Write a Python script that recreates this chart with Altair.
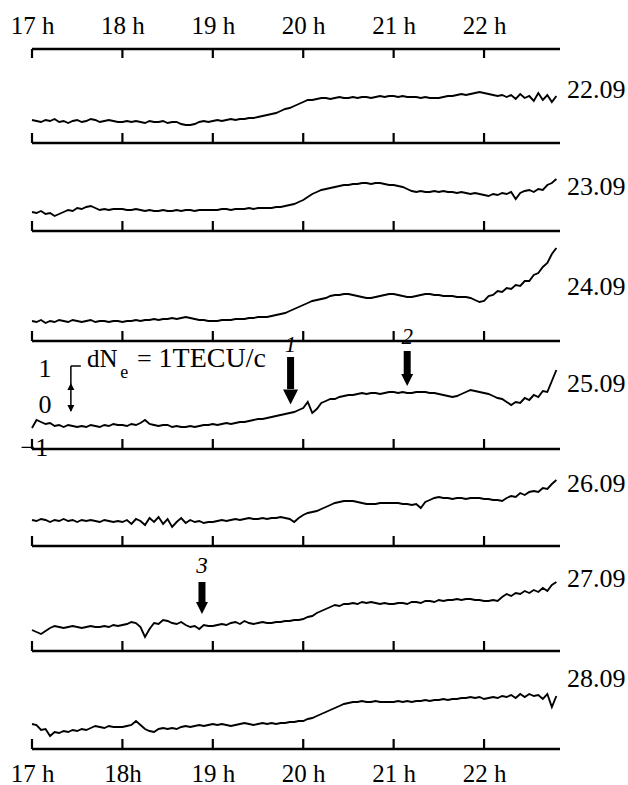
import altair as alt
import pandas as pd

# ---------------- data ----------------
hours = [17, 18, 19, 20, 21, 22]
top_labels = ["17 h", "18 h", "19 h", "20 h", "21 h", "22 h"]
bottom_labels = ["17 h", "18h", "19 h", "20 h", "21 h", "22 h"]
dates = ["22.09", "23.09", "24.09", "25.09", "26.09", "27.09", "28.09"]

sample_start = 17.0   # h
sample_step = 0.05    # h (3 min)

# dNe traces (relative units), one value every 3 min
dne_2209 = [23, 22, 21, 23, 22, 24, 21, 22, 20, 22, 23, 21, 22, 24, 23, 21, 22, 23, 22, 21,
            21, 22, 21, 22, 21, 20, 22, 21, 21, 22, 20, 21, 21, 19, 18, 18, 19, 21, 22, 21,
            22, 23, 22, 23, 24, 23, 24, 24, 25, 25, 26, 27, 28, 29, 30, 32, 34, 35, 37, 39,
            41, 43, 43, 44, 45, 45, 44, 45, 46, 45, 45, 46, 45, 46, 46, 45, 46, 47, 46, 47,
            47, 46, 47, 46, 46, 46, 45, 46, 45, 45, 45, 46, 47, 47, 48, 49, 48, 49, 50, 51,
            50, 49, 48, 47, 48, 46, 48, 44, 49, 45, 47, 42, 50, 43, 48, 41, 47]
dne_2309 = [19, 18, 20, 17, 18, 15, 17, 19, 21, 20, 23, 22, 24, 25, 23, 21, 22, 21, 22, 22,
            22, 21, 21, 22, 21, 20, 21, 20, 20, 21, 20, 20, 21, 20, 21, 21, 20, 21, 21, 21,
            21, 21, 22, 22, 21, 22, 22, 22, 23, 22, 23, 23, 23, 23, 24, 24, 25, 26, 27, 29,
            31, 34, 37, 39, 41, 42, 43, 44, 45, 46, 46, 47, 47, 48, 48, 47, 48, 48, 47, 46,
            46, 45, 44, 42, 40, 39, 40, 39, 39, 40, 39, 40, 39, 39, 38, 39, 38, 37, 38, 37,
            36, 35, 37, 36, 38, 37, 39, 32, 38, 40, 41, 39, 42, 41, 46, 48, 52]
dne_2409 = [20, 19, 21, 18, 20, 19, 21, 20, 19, 21, 20, 19, 20, 21, 19, 20, 20, 19, 20, 20,
            19, 20, 20, 21, 20, 21, 21, 22, 21, 22, 22, 23, 22, 23, 24, 23, 22, 21, 21, 20,
            20, 20, 21, 21, 21, 22, 22, 22, 23, 23, 24, 24, 24, 25, 26, 27, 28, 30, 32, 34,
            36, 38, 40, 41, 42, 43, 45, 46, 46, 47, 47, 46, 45, 44, 43, 43, 44, 45, 46, 47,
            47, 46, 45, 44, 44, 45, 46, 47, 47, 46, 46, 45, 45, 45, 44, 44, 44, 43, 41, 39,
            40, 45, 46, 50, 49, 53, 52, 56, 55, 60, 60, 66, 68, 74, 78, 87, 93]
dne_2509 = [21, 29, 27, 25, 26, 23, 24, 22, 24, 23, 22, 23, 22, 24, 23, 22, 24, 23, 25, 24,
            24, 23, 25, 24, 26, 29, 25, 24, 23, 24, 24, 22, 23, 22, 22, 23, 22, 23, 24, 24,
            25, 24, 25, 26, 25, 26, 27, 27, 28, 29, 30, 30, 31, 32, 33, 34, 35, 36, 37, 39,
            41, 47, 36, 40, 46, 48, 50, 50, 52, 53, 54, 54, 55, 56, 55, 56, 56, 55, 56, 57,
            57, 56, 57, 56, 56, 57, 57, 57, 56, 56, 55, 54, 53, 52, 53, 55, 57, 59, 58, 57,
            56, 55, 53, 51, 50, 47, 44, 47, 46, 51, 49, 54, 52, 58, 57, 68, 79]
dne_2609 = [26, 25, 27, 26, 24, 26, 25, 27, 25, 26, 24, 26, 25, 26, 25, 24, 26, 25, 24, 25,
            24, 26, 22, 27, 25, 21, 28, 24, 29, 22, 27, 19, 24, 28, 23, 26, 24, 25, 23, 24,
            24, 25, 26, 25, 26, 27, 26, 27, 28, 27, 27, 28, 27, 28, 28, 29, 28, 27, 24, 28,
            31, 33, 34, 35, 37, 39, 41, 43, 44, 45, 45, 45, 44, 43, 42, 42, 42, 43, 43, 43,
            43, 43, 42, 42, 41, 42, 38, 44, 46, 48, 49, 48, 48, 47, 48, 48, 47, 48, 48, 48,
            47, 47, 46, 46, 45, 48, 50, 49, 53, 51, 54, 55, 54, 58, 57, 62, 66]
dne_2709 = [21, 19, 17, 20, 23, 25, 24, 23, 24, 25, 24, 23, 24, 25, 24, 24, 25, 24, 26, 25,
            26, 27, 29, 28, 24, 14, 22, 28, 27, 31, 30, 28, 27, 29, 26, 24, 25, 22, 26, 25,
            25, 26, 27, 26, 28, 29, 27, 30, 28, 27, 28, 29, 28, 28, 29, 29, 30, 30, 31, 31,
            32, 34, 35, 38, 40, 42, 44, 46, 45, 47, 47, 48, 47, 49, 48, 49, 48, 47, 48, 47,
            47, 48, 48, 47, 49, 49, 48, 50, 50, 49, 51, 50, 51, 51, 52, 51, 52, 52, 51, 51,
            50, 50, 51, 50, 54, 57, 55, 58, 57, 60, 58, 61, 59, 63, 60, 66, 69]
dne_2809 = [25, 24, 19, 20, 13, 17, 16, 18, 17, 19, 18, 20, 19, 21, 23, 22, 21, 23, 22, 22,
            22, 23, 24, 28, 24, 20, 18, 17, 20, 21, 20, 21, 20, 22, 23, 22, 23, 24, 23, 24,
            25, 24, 25, 24, 23, 24, 25, 26, 25, 24, 25, 26, 25, 26, 25, 26, 26, 27, 27, 28,
            28, 30, 31, 33, 35, 37, 39, 41, 43, 45, 46, 47, 47, 48, 47, 47, 48, 47, 47, 47,
            47, 48, 47, 48, 47, 48, 48, 49, 48, 49, 49, 50, 49, 50, 50, 51, 51, 52, 51, 52,
            50, 51, 52, 51, 53, 52, 54, 51, 55, 52, 55, 53, 54, 50, 55, 42, 53]
series = [dne_2209, dne_2309, dne_2409, dne_2509, dne_2609, dne_2709, dne_2809]

# marked events (arrows 1, 2, 3)
event_labels = ["1", "2", "3"]
event_times = [19.86, 21.15, 18.88]
event_dates = ["25.09", "25.09", "27.09"]

# ---------------- layout ----------------
W, H = 528, 700
T0, T1 = 17.0, 22.84
panel_base = [606, 518, 408, 300, 203, 98, 0]   # level of each panel's time axis
top_axis = 700
tick_len = 10
date_label_h = [53, 44, 54, 65, 62, 72, 70]
# arrow geometry (relative to panel axis): top of shaft, base of head, tip, label, head width
arrow_geo = [(92, 59, 45, 104, 15), (98, 74, 64, 112, 12), (69, 48, 38, 85, 12)]
FONT = "Liberation Serif"
FS_AX = 25
FS_DATE = 26

xs = alt.Scale(domain=[T0, T1], nice=False, zero=False)
ys = alt.Scale(domain=[0, H], nice=False, zero=False)


def lab_expr(labels):
    expr = "''"
    for h, l in reversed(list(zip(hours, labels))):
        expr = f"datum.value == {h} ? '{l}' : ({expr})"
    return expr


def axis(orient, labels):
    return alt.Axis(orient=orient, values=hours, labelExpr=lab_expr(labels), domain=False,
                    ticks=False, tickSize=0, grid=False, title=None, labelFont=FONT,
                    labelFontSize=FS_AX, labelColor="black", labelPadding=24,
                    labelBaseline="middle", labelFlush=False, labelOverlap=False, labelAngle=0)


# traces
rows = []
for p, (d, vals) in enumerate(zip(dates, series)):
    for i, v in enumerate(vals):
        rows.append({"date": d, "t": round(sample_start + sample_step * i, 3),
                     "v": panel_base[p] + v})
trace_df = pd.DataFrame(rows)

traces = alt.Chart(trace_df).mark_line(color="black", strokeWidth=1.9,
                                       strokeJoin="miter").encode(
    x=alt.X("t:Q", scale=xs, axis=axis("bottom", bottom_labels)),
    y=alt.Y("v:Q", scale=ys, axis=None),
    detail="date:N",
)

# axis lines
axis_df = pd.DataFrame({"t0": T0, "t1": T1, "y": [top_axis] + panel_base})
axis_lines = alt.Chart(axis_df).mark_rule(color="black", strokeWidth=2.6).encode(
    x=alt.X("t0:Q", scale=xs, axis=axis("top", top_labels)),
    x2="t1:Q",
    y=alt.Y("y:Q", scale=ys, axis=None),
)

tick_rows = []
for h in hours:
    tick_rows.append({"t": h, "y": top_axis, "y2": top_axis - tick_len + 1})
    for b in panel_base:
        tick_rows.append({"t": h, "y": b, "y2": b + tick_len})
ticks = alt.Chart(pd.DataFrame(tick_rows)).mark_rule(color="black", strokeWidth=2.2).encode(
    x=alt.X("t:Q", scale=xs, axis=None),
    y=alt.Y("y:Q", scale=ys, axis=None),
    y2="y2:Q",
)

# date labels
date_df = pd.DataFrame({"t": T1, "y": [b + h for b, h in zip(panel_base, date_label_h)],
                        "label": dates})
date_text = alt.Chart(date_df).mark_text(align="left", baseline="middle", dx=7, font=FONT,
                                         fontSize=FS_DATE, color="black").encode(
    x=alt.X("t:Q", scale=xs, axis=None),
    y=alt.Y("y:Q", scale=ys, axis=None),
    text="label:N",
)

# event arrows
arr_rows = []
for lab, t, d, (top, base, tip, lh, hw) in zip(event_labels, event_times, event_dates, arrow_geo):
    b = panel_base[dates.index(d)]
    arr_rows.append({"label": lab, "t": t, "top": b + top, "base": b + base + 1,
                     "head": b + (base + tip) / 2, "lab_y": b + lh, "size": hw * hw})
arr_df = pd.DataFrame(arr_rows)
shafts = alt.Chart(arr_df).mark_rule(color="black", strokeWidth=7).encode(
    x=alt.X("t:Q", scale=xs, axis=None),
    y=alt.Y("top:Q", scale=ys, axis=None),
    y2="base:Q",
)
heads = alt.Chart(arr_df).mark_point(shape="M-1,-1L1,-1L0,1Z", filled=True, color="black",
                                     opacity=1, strokeWidth=0).encode(
    x=alt.X("t:Q", scale=xs, axis=None),
    y=alt.Y("head:Q", scale=ys, axis=None),
    size=alt.Size("size:Q", scale=None, legend=None),
)
arr_text = alt.Chart(arr_df).mark_text(font=FONT, fontSize=23, fontStyle="italic",
                                       baseline="middle", color="black").encode(
    x=alt.X("t:Q", scale=xs, axis=None),
    y=alt.Y("lab_y:Q", scale=ys, axis=None),
    text="label:N",
)

# scale bar on the 25.09 panel
b4 = panel_base[3]
sb_text_df = pd.DataFrame({"t": [17.144, 17.144, 17.18], "y": [b4 + 80, b4 + 44, b4 + 1],
                           "label": ["1", "0", "\u22121"], "align": ["c", "c", "r"]})
sb_text_c = alt.Chart(sb_text_df[sb_text_df["align"] == "c"]).mark_text(
    font=FONT, fontSize=FS_DATE, baseline="middle", align="center", color="black").encode(
    x=alt.X("t:Q", scale=xs, axis=None), y=alt.Y("y:Q", scale=ys, axis=None), text="label:N")
sb_text_r = alt.Chart(sb_text_df[sb_text_df["align"] == "r"]).mark_text(
    font=FONT, fontSize=FS_DATE, baseline="middle", align="right", color="black").encode(
    x=alt.X("t:Q", scale=xs, axis=None), y=alt.Y("y:Q", scale=ys, axis=None), text="label:N")

sb_t = 17.43
sb_v = alt.Chart(pd.DataFrame({"t": [sb_t], "y": [b4 + 83], "y2": [b4 + 38]})).mark_rule(
    color="black", strokeWidth=1.5).encode(
    x=alt.X("t:Q", scale=xs, axis=None), y=alt.Y("y:Q", scale=ys, axis=None), y2="y2:Q")
sb_h = alt.Chart(pd.DataFrame({"t": [sb_t], "t2": [17.54], "y": [b4 + 83]})).mark_rule(
    color="black", strokeWidth=1.5).encode(
    x=alt.X("t:Q", scale=xs, axis=None), x2="t2:Q", y=alt.Y("y:Q", scale=ys, axis=None))
sb_up = alt.Chart(pd.DataFrame({"t": [sb_t], "y": [b4 + 62.5]})).mark_point(
    shape="M-1,1L1,1L0,-1Z", filled=True, color="black", opacity=1, size=49).encode(
    x=alt.X("t:Q", scale=xs, axis=None), y=alt.Y("y:Q", scale=ys, axis=None))
sb_dn = alt.Chart(pd.DataFrame({"t": [sb_t], "y": [b4 + 40.5]})).mark_point(
    shape="M-1,-1L1,-1L0,1Z", filled=True, color="black", opacity=1, size=49).encode(
    x=alt.X("t:Q", scale=xs, axis=None), y=alt.Y("y:Q", scale=ys, axis=None))

unit_df = pd.DataFrame({"t": [17.608, 17.975, 18.16, 18.40],
                        "y": [b4 + 90, b4 + 76, b4 + 90, b4 + 90],
                        "label": ["dN", "e", "=", "1TECU/c"], "fs": [25, 18, 26, 28]})
unit_text = alt.Chart(unit_df).mark_text(font=FONT, baseline="middle", align="left",
                                         color="black").encode(
    x=alt.X("t:Q", scale=xs, axis=None),
    y=alt.Y("y:Q", scale=ys, axis=None),
    text="label:N",
    size=alt.Size("fs:Q", scale=None, legend=None),
)

chart = alt.layer(
    axis_lines, ticks, traces, date_text, shafts, heads, arr_text,
    sb_text_c, sb_text_r, sb_v, sb_h, sb_up, sb_dn, unit_text,
).resolve_axis(x="independent").properties(
    width=W, height=H,
    autosize=alt.AutoSizeParams(type="none"),
    padding={"left": 32, "top": 49, "right": 68, "bottom": 36},
    background="white",
).configure_view(strokeWidth=0)

chart.save("out.html", embed_options={"renderer": "svg", "actions": False})
